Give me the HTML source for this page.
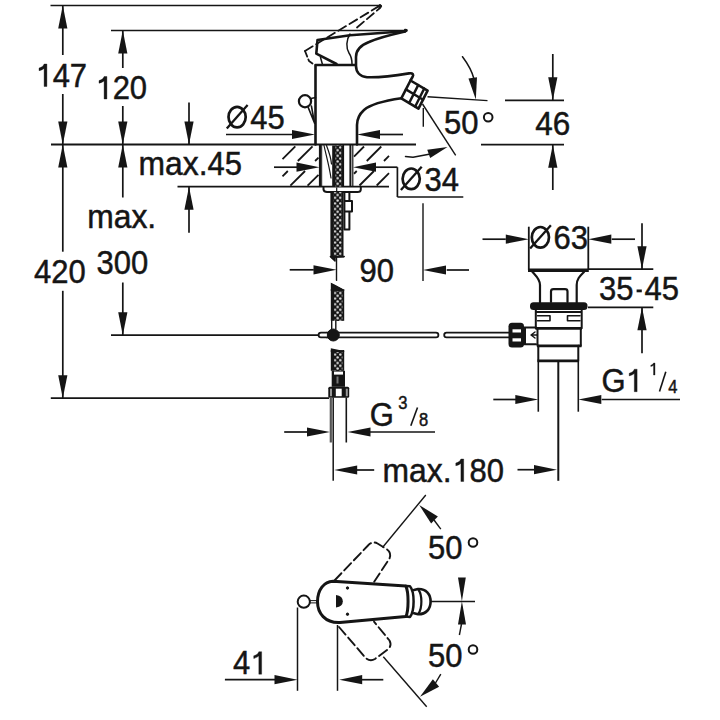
<!DOCTYPE html>
<html><head><meta charset="utf-8"><style>
html,body{margin:0;padding:0;background:#fff;}
svg{display:block;}
text{font-family:"Liberation Sans",sans-serif;fill:#151515;}
</style></head><body>
<svg width="720" height="720" viewBox="0 0 720 720">
<rect width="720" height="720" fill="#fff"/>
<line x1="50.50" y1="5.50" x2="380.00" y2="5.50" stroke="#151515" stroke-width="1.7" />
<line x1="111.00" y1="30.50" x2="405.00" y2="30.50" stroke="#151515" stroke-width="1.7" />
<line x1="51.00" y1="144.50" x2="416.00" y2="144.50" stroke="#151515" stroke-width="1.8" />
<line x1="177.50" y1="186.70" x2="389.00" y2="186.70" stroke="#151515" stroke-width="1.8" />
<line x1="111.00" y1="335.20" x2="318.00" y2="335.20" stroke="#151515" stroke-width="1.7" />
<line x1="50.80" y1="398.20" x2="329.00" y2="398.20" stroke="#151515" stroke-width="1.7" />
<line x1="62.80" y1="5.50" x2="62.80" y2="55.00" stroke="#151515" stroke-width="1.7" />
<line x1="62.80" y1="94.00" x2="62.80" y2="144.50" stroke="#151515" stroke-width="1.7" />
<polygon points="62.80,5.50 67.40,28.50 58.20,28.50" fill="#151515" stroke="none" stroke-width="0"/>
<polygon points="62.80,144.50 58.20,121.50 67.40,121.50" fill="#151515" stroke="none" stroke-width="0"/>
<line x1="62.80" y1="144.50" x2="62.80" y2="251.70" stroke="#151515" stroke-width="1.7" />
<line x1="62.80" y1="290.80" x2="62.80" y2="398.20" stroke="#151515" stroke-width="1.7" />
<polygon points="62.80,144.50 67.40,167.50 58.20,167.50" fill="#151515" stroke="none" stroke-width="0"/>
<polygon points="62.80,398.20 58.20,375.20 67.40,375.20" fill="#151515" stroke="none" stroke-width="0"/>
<line x1="122.80" y1="30.50" x2="122.80" y2="68.00" stroke="#151515" stroke-width="1.7" />
<line x1="122.80" y1="106.00" x2="122.80" y2="145.00" stroke="#151515" stroke-width="1.7" />
<polygon points="122.80,30.50 127.40,53.50 118.20,53.50" fill="#151515" stroke="none" stroke-width="0"/>
<polygon points="122.80,144.50 118.20,121.50 127.40,121.50" fill="#151515" stroke="none" stroke-width="0"/>
<line x1="122.80" y1="145.00" x2="122.80" y2="197.50" stroke="#151515" stroke-width="1.7" />
<line x1="122.80" y1="282.50" x2="122.80" y2="335.00" stroke="#151515" stroke-width="1.7" />
<polygon points="122.80,144.50 127.40,167.50 118.20,167.50" fill="#151515" stroke="none" stroke-width="0"/>
<polygon points="122.80,335.20 118.20,312.20 127.40,312.20" fill="#151515" stroke="none" stroke-width="0"/>
<line x1="189.00" y1="102.50" x2="189.00" y2="145.00" stroke="#151515" stroke-width="1.7" />
<polygon points="189.00,144.50 184.40,121.50 193.60,121.50" fill="#151515" stroke="none" stroke-width="0"/>
<line x1="189.00" y1="186.70" x2="189.00" y2="232.80" stroke="#151515" stroke-width="1.7" />
<polygon points="189.00,186.70 193.60,209.70 184.40,209.70" fill="#151515" stroke="none" stroke-width="0"/>
<path d="M46.90,86.50 V64.00 H44.10 C43.40,66.00 41.90,67.20 39.00,68.10 V70.70 C40.90,70.30 42.70,69.50 44.10,68.40 V86.50 Z" fill="#151515" stroke="#151515" stroke-width="0.35"/>
<text transform="translate(52.63,86.50) scale(1.0,1.07)" font-size="31" stroke="#151515" stroke-width="0.45">47</text>
<path d="M106.90,99.00 V76.50 H104.10 C103.40,78.50 101.90,79.70 99.00,80.60 V83.20 C100.90,82.80 102.70,82.00 104.10,80.90 V99.00 Z" fill="#151515" stroke="#151515" stroke-width="0.35"/>
<text transform="translate(112.63,99.00) scale(1.0,1.07)" font-size="31" stroke="#151515" stroke-width="0.45">20</text>
<text transform="translate(138.54,175.00) scale(1.028,1.07)" font-size="31" stroke="#151515" stroke-width="0.45">max.</text>
<text transform="translate(207.50,175.00) scale(1.0,1.07)" font-size="31" stroke="#151515" stroke-width="0.45">45</text>
<text transform="translate(87.14,228.00) scale(1.028,1.07)" font-size="31" stroke="#151515" stroke-width="0.45">max.</text>
<text transform="translate(34.00,282.50) scale(1.0,1.07)" font-size="31" stroke="#151515" stroke-width="0.45">420</text>
<text transform="translate(96.50,274.20) scale(1.0,1.07)" font-size="31" stroke="#151515" stroke-width="0.45">300</text>
<ellipse cx="237.10" cy="117.10" rx="8.60" ry="10.30" fill="none" stroke="#151515" stroke-width="2.70"/>
<line x1="226.80" y1="128.40" x2="247.60" y2="105.00" stroke="#151515" stroke-width="2.30"/>
<text transform="translate(250.31,129.00) scale(1.0,1.07)" font-size="31" stroke="#151515" stroke-width="0.45">45</text>
<line x1="226.00" y1="134.50" x2="292.00" y2="134.50" stroke="#151515" stroke-width="1.7" />
<polygon points="315.00,134.50 292.00,139.10 292.00,129.90" fill="#151515" stroke="none" stroke-width="0"/>
<polygon points="357.00,134.50 380.00,129.90 380.00,139.10" fill="#151515" stroke="none" stroke-width="0"/>
<line x1="378.00" y1="134.50" x2="403.00" y2="134.50" stroke="#151515" stroke-width="1.7" />
<line x1="282.50" y1="159.10" x2="295.30" y2="146.30" stroke="#151515" stroke-width="1.8" />
<line x1="282.50" y1="176.33" x2="287.83" y2="171.00" stroke="#151515" stroke-width="1.8" />
<line x1="297.83" y1="161.00" x2="312.53" y2="146.30" stroke="#151515" stroke-width="1.8" />
<line x1="290.36" y1="185.70" x2="305.06" y2="171.00" stroke="#151515" stroke-width="1.8" />
<line x1="315.06" y1="161.00" x2="318.50" y2="157.56" stroke="#151515" stroke-width="1.8" />
<line x1="307.59" y1="185.70" x2="318.50" y2="174.79" stroke="#151515" stroke-width="1.8" />
<line x1="354.00" y1="156.52" x2="364.02" y2="146.50" stroke="#151515" stroke-width="1.8" />
<line x1="354.00" y1="173.75" x2="356.75" y2="171.00" stroke="#151515" stroke-width="1.8" />
<line x1="366.75" y1="161.00" x2="381.25" y2="146.50" stroke="#151515" stroke-width="1.8" />
<line x1="359.48" y1="185.50" x2="373.98" y2="171.00" stroke="#151515" stroke-width="1.8" />
<line x1="383.98" y1="161.00" x2="389.00" y2="155.98" stroke="#151515" stroke-width="1.8" />
<line x1="376.71" y1="185.50" x2="389.00" y2="173.21" stroke="#151515" stroke-width="1.8" />
<line x1="320.00" y1="144.50" x2="320.00" y2="186.70" stroke="#151515" stroke-width="2.2" />
<line x1="350.40" y1="144.50" x2="350.40" y2="186.70" stroke="#151515" stroke-width="2" />
<line x1="343.30" y1="144.50" x2="343.30" y2="186.70" stroke="#151515" stroke-width="1.6" />
<line x1="352.80" y1="144.50" x2="352.80" y2="186.70" stroke="#151515" stroke-width="1.2" />
<line x1="274.00" y1="167.20" x2="297.00" y2="167.20" stroke="#151515" stroke-width="1.7" />
<polygon points="319.50,167.20 296.50,171.80 296.50,162.60" fill="#151515" stroke="none" stroke-width="0"/>
<polygon points="353.00,167.20 376.00,162.60 376.00,171.80" fill="#151515" stroke="none" stroke-width="0"/>
<line x1="375.00" y1="167.20" x2="397.40" y2="167.20" stroke="#151515" stroke-width="1.7" />
<line x1="397.40" y1="167.20" x2="397.40" y2="197.00" stroke="#151515" stroke-width="1.7" />
<line x1="397.40" y1="197.00" x2="463.30" y2="197.00" stroke="#151515" stroke-width="1.7" />
<ellipse cx="411.20" cy="178.80" rx="8.60" ry="10.30" fill="none" stroke="#151515" stroke-width="2.70"/>
<line x1="400.90" y1="190.10" x2="421.70" y2="166.70" stroke="#151515" stroke-width="2.30"/>
<text transform="translate(424.41,190.70) scale(1.0,1.07)" font-size="31" stroke="#151515" stroke-width="0.45">34</text>
<path d="M315.5,144.5 V65 H355.5" fill="none" stroke="#151515" stroke-width="2.6" stroke-linejoin="round" stroke-linecap="round" />
<path d="M405,31.5 C394,34 378,38 369,42 C360,45.5 356,50 356,57 L356,66 C356,72 360,76.5 367,77.2 C380,77.8 396,75.5 409,73.4 C413,72.8 414,74.5 412.5,77 L410.5,80.5" fill="none" stroke="#151515" stroke-width="2.6" stroke-linejoin="round" stroke-linecap="round" />
<path d="M401.3,98.3 C386,100.5 371,104 364,110 C359,114.5 357,119 357,125 L357,144.5" fill="none" stroke="#151515" stroke-width="2.6" stroke-linejoin="round" stroke-linecap="round" />
<path d="M410.5,80.5 L427.6,90.7 L418.5,108.7 L401.3,98.3 Z" fill="none" stroke="#151515" stroke-width="2.6" stroke-linejoin="round" stroke-linecap="round" />
<path d="M418.2,85.1 L409.2,102.9 M424.2,88.6 L415.2,106.5 M405.9,89.4 L423.1,99.7" fill="none" stroke="#151515" stroke-width="2.4" stroke-linejoin="round" stroke-linecap="round" />
<path d="M405,31.2 L350,35.2 L317.5,40 L316.3,53.7 L336.5,64" fill="none" stroke="#151515" stroke-width="2.6" stroke-linejoin="round" stroke-linecap="round" />
<path d="M405,31.5 C407.5,31 407.5,29.7 405,29.8" fill="none" stroke="#151515" stroke-width="2" stroke-linejoin="round" stroke-linecap="round" />
<path d="M350,34 C346,40 346,48 349,53 C351,56 352,60 352,64" fill="none" stroke="#151515" stroke-width="1.5" stroke-linejoin="round" stroke-linecap="round" />
<path d="M320.5,57.5 L322.5,64.5" fill="none" stroke="#151515" stroke-width="1.5" stroke-linejoin="round" stroke-linecap="round" />
<path d="M305,51 L380,5.5" fill="none" stroke="#151515" stroke-width="1.8" stroke-linejoin="round" stroke-linecap="round" stroke-dasharray="9 4"/>
<path d="M357,27.5 L380,8" fill="none" stroke="#151515" stroke-width="1.8" stroke-linejoin="round" stroke-linecap="round" stroke-dasharray="9 4"/>
<path d="M305,51 L309,61 L314,64.5" fill="none" stroke="#151515" stroke-width="1.8" stroke-linejoin="round" stroke-linecap="round" stroke-dasharray="6 3"/>
<circle cx="380" cy="6.2" r="1.6" fill="#151515" stroke="#151515" stroke-width="1"/>
<circle cx="305" cy="101.25" r="6.1" fill="none" stroke="#151515" stroke-width="2.2"/>
<path d="M308.3,107.6 L314.6,123.3 M311.4,106 L314.6,123.3 M311,98.5 L315.5,97.5" fill="none" stroke="#151515" stroke-width="1.6" stroke-linejoin="round" stroke-linecap="round" />
<line x1="427.50" y1="96.70" x2="487.50" y2="100.60" stroke="#151515" stroke-width="1.4" />
<line x1="422.50" y1="104.00" x2="455.70" y2="155.30" stroke="#151515" stroke-width="1.4" />
<line x1="423.30" y1="108.00" x2="423.30" y2="126.70" stroke="#151515" stroke-width="1.4" />
<line x1="423.00" y1="203.20" x2="423.00" y2="281.00" stroke="#151515" stroke-width="1.4" />
<polygon points="423.00,270.00 446.00,265.40 446.00,274.60" fill="#151515" stroke="none" stroke-width="0"/>
<line x1="446.70" y1="270.00" x2="469.00" y2="270.00" stroke="#151515" stroke-width="1.7" />
<path d="M462.5,56.7 C468,64 472,71 474,79" fill="none" stroke="#151515" stroke-width="1.5" stroke-linejoin="round" stroke-linecap="round" />
<polygon points="475.80,99.60 468.48,78.41 477.00,77.22" fill="#151515" stroke="none" stroke-width="0"/>
<path d="M405.5,156.5 L413,157.3 L429,154.2" fill="none" stroke="#151515" stroke-width="1.5" stroke-linejoin="round" stroke-linecap="round" />
<polygon points="447.50,147.00 430.18,157.88 427.24,149.80" fill="#151515" stroke="none" stroke-width="0"/>
<text transform="translate(444.00,134.00) scale(1.0,1.07)" font-size="31" stroke="#151515" stroke-width="0.45">50</text>
<circle cx="488.2" cy="117.3" r="4.3" fill="none" stroke="#151515" stroke-width="2.0"/>
<line x1="505.00" y1="100.30" x2="564.00" y2="100.30" stroke="#151515" stroke-width="1.7" />
<line x1="481.00" y1="144.70" x2="564.00" y2="144.70" stroke="#151515" stroke-width="1.8" />
<line x1="552.80" y1="54.00" x2="552.80" y2="100.30" stroke="#151515" stroke-width="1.7" />
<polygon points="552.80,100.30 548.20,77.30 557.40,77.30" fill="#151515" stroke="none" stroke-width="0"/>
<line x1="552.80" y1="144.70" x2="552.80" y2="190.00" stroke="#151515" stroke-width="1.7" />
<polygon points="552.80,144.70 557.40,167.70 548.20,167.70" fill="#151515" stroke="none" stroke-width="0"/>
<text transform="translate(535.20,134.50) scale(1.0,1.07)" font-size="31.5" stroke="#151515" stroke-width="0.45">46</text>
<ellipse cx="540.40" cy="237.30" rx="8.60" ry="10.30" fill="none" stroke="#151515" stroke-width="2.70"/>
<line x1="530.10" y1="248.60" x2="550.90" y2="225.20" stroke="#151515" stroke-width="2.30"/>
<text transform="translate(553.61,249.20) scale(1.0,1.07)" font-size="31" stroke="#151515" stroke-width="0.45">63</text>
<line x1="528.80" y1="226.70" x2="528.80" y2="270.00" stroke="#151515" stroke-width="1.8" />
<line x1="588.30" y1="226.70" x2="588.30" y2="270.00" stroke="#151515" stroke-width="1.8" />
<line x1="482.50" y1="239.20" x2="505.80" y2="239.20" stroke="#151515" stroke-width="1.7" />
<polygon points="528.80,239.20 505.80,243.80 505.80,234.60" fill="#151515" stroke="none" stroke-width="0"/>
<polygon points="588.30,239.20 611.30,234.60 611.30,243.80" fill="#151515" stroke="none" stroke-width="0"/>
<line x1="611.70" y1="239.20" x2="635.00" y2="239.20" stroke="#151515" stroke-width="1.7" />
<line x1="528.00" y1="270.30" x2="588.80" y2="270.30" stroke="#151515" stroke-width="3.6" />
<line x1="588.00" y1="269.20" x2="653.30" y2="269.20" stroke="#151515" stroke-width="1.7" />
<line x1="588.00" y1="307.30" x2="653.30" y2="307.30" stroke="#151515" stroke-width="1.7" />
<line x1="642.00" y1="223.30" x2="642.00" y2="269.20" stroke="#151515" stroke-width="1.7" />
<polygon points="642.00,269.20 637.40,246.20 646.60,246.20" fill="#151515" stroke="none" stroke-width="0"/>
<line x1="642.00" y1="307.30" x2="642.00" y2="353.30" stroke="#151515" stroke-width="1.7" />
<polygon points="642.00,307.30 646.60,330.30 637.40,330.30" fill="#151515" stroke="none" stroke-width="0"/>
<text transform="translate(599.00,300.00) scale(1.0,1.07)" font-size="31" stroke="#151515" stroke-width="0.45">35</text>
<text transform="translate(644.60,300.00) scale(1.0,1.07)" font-size="31" stroke="#151515" stroke-width="0.45">45</text>
<rect x="636.6" y="289.5" width="5.2" height="2.8" fill="#151515"/>
<path d="M532.5,272 C536,276 540,279 540,285 L540,302.5" fill="none" stroke="#151515" stroke-width="2.2" stroke-linejoin="round" stroke-linecap="round" />
<path d="M584,272 C580,276 576.7,279 576.7,285 L576.7,302.5" fill="none" stroke="#151515" stroke-width="2.2" stroke-linejoin="round" stroke-linecap="round" />
<path d="M551,302 L551,291.5 Q551,289.2 553.5,289.2 L565,289.2 Q567.5,289.2 567.5,291.5 L567.5,302" fill="none" stroke="#151515" stroke-width="2.2" stroke-linejoin="round" stroke-linecap="round" />
<rect x="530" y="302.3" width="57.5" height="7.8" rx="3.5" fill="#151515"/>
<path d="M535.8,310 L535.8,328.3 M581.7,310 L581.7,328.3 M535.8,312 L581.7,312" fill="none" stroke="#151515" stroke-width="2" stroke-linejoin="round" stroke-linecap="round" />
<path d="M537.5,315.8 H550 V320.8 H537.5 M580,315.8 H567.5 V320.8 H580" fill="none" stroke="#151515" stroke-width="1.6" stroke-linejoin="round" stroke-linecap="round" />
<line x1="535.50" y1="328.30" x2="582.00" y2="328.30" stroke="#151515" stroke-width="2.8" />
<path d="M537.5,328.3 L537.5,345.8 M580.8,328.3 L580.8,345.8" fill="none" stroke="#151515" stroke-width="2" stroke-linejoin="round" stroke-linecap="round" />
<line x1="537.00" y1="345.80" x2="581.50" y2="345.80" stroke="#151515" stroke-width="2.8" />
<path d="M538.3,345.8 L538.3,360.8 M578.3,345.8 L578.3,360.8" fill="none" stroke="#151515" stroke-width="2" stroke-linejoin="round" stroke-linecap="round" />
<line x1="537.50" y1="360.80" x2="579.00" y2="360.80" stroke="#151515" stroke-width="2.8" />
<line x1="538.30" y1="361.00" x2="538.30" y2="411.70" stroke="#151515" stroke-width="1.6" />
<line x1="578.30" y1="361.00" x2="578.30" y2="411.70" stroke="#151515" stroke-width="1.6" />
<line x1="558.30" y1="361.00" x2="558.30" y2="480.80" stroke="#151515" stroke-width="2" />
<rect x="508.5" y="322.8" width="15.5" height="24.7" rx="3.5" fill="#151515"/>
<rect x="512.5" y="329.3" width="8.5" height="3.2" fill="#fff"/>
<rect x="512.5" y="338.3" width="8.5" height="3.2" fill="#fff"/>
<path d="M523.3,327.5 H536 M523.3,344.2 H536 M525,327.5 V344.2" fill="none" stroke="#151515" stroke-width="2" stroke-linejoin="round" stroke-linecap="round" />
<path d="M535,332 L531,335 L535,338 M531,335 H537" fill="none" stroke="#151515" stroke-width="1.4" stroke-linejoin="round" stroke-linecap="round" />
<path d="M327,332.6 H436 A2.4,2.4 0 0 1 436,337.4 H327" fill="#fff" stroke="#151515" stroke-width="1.8" stroke-linejoin="round" stroke-linecap="round" />
<path d="M446.6,332.6 H509.5 M446.6,337.4 H509.5 M446.6,332.6 A2.4,2.4 0 0 0 446.6,337.4" fill="none" stroke="#151515" stroke-width="1.8" stroke-linejoin="round" stroke-linecap="round" />
<path d="M327,332.6 H321 A2.4,2.4 0 0 0 321,337.4 H327" fill="#fff" stroke="#151515" stroke-width="1.8" stroke-linejoin="round" stroke-linecap="round" />
<circle cx="333.3" cy="335" r="6" fill="#151515" stroke="#151515" stroke-width="1"/>
<line x1="493.30" y1="399.50" x2="516.70" y2="399.50" stroke="#151515" stroke-width="1.7" />
<polygon points="538.30,399.50 515.30,404.10 515.30,394.90" fill="#151515" stroke="none" stroke-width="0"/>
<polygon points="578.30,399.50 601.30,394.90 601.30,404.10" fill="#151515" stroke="none" stroke-width="0"/>
<line x1="601.70" y1="399.50" x2="680.00" y2="399.50" stroke="#151515" stroke-width="1.7" />
<text transform="translate(601.50,391.70) scale(1.0,1.07)" font-size="31" stroke="#151515" stroke-width="0.45">G</text>
<path d="M637.11,391.70 V369.20 H634.31 C633.61,371.20 632.11,372.40 629.21,373.30 V375.90 C631.11,375.50 632.91,374.70 634.31,373.60 V391.70 Z" fill="#151515" stroke="#151515" stroke-width="0.35"/>
<path d="M655.00,375.00 V363.02 H653.51 C653.14,364.09 652.34,364.73 650.80,365.21 V366.59 C651.81,366.38 652.77,365.95 653.51,365.37 V375.00 Z" fill="#151515" stroke="#151515" stroke-width="0.35"/>
<line x1="659.50" y1="391.50" x2="665.80" y2="371.70" stroke="#151515" stroke-width="1.6" />
<text transform="translate(668.30,392.50) scale(1.0,1.07)" font-size="16.5" stroke="#151515" stroke-width="0.45">4</text>
<defs><pattern id="br" x="333.7" y="0.4" width="5.3" height="5.6" patternUnits="userSpaceOnUse">
<rect width="5.3" height="5.6" fill="#151515"/><circle cx="1.3" cy="1.4" r="1.2" fill="#e8e8e8"/><circle cx="3.95" cy="4.2" r="1.2" fill="#e8e8e8"/></pattern></defs>
<rect x="332.2" y="145.5" width="11.100000000000023" height="41.0" fill="#151515"/>
<rect x="335.5" y="145.5" width="6.000000000000023" height="41.0" fill="url(#br)"/>
<path d="M324,145.5 C326,155 329,165 331,178" fill="none" stroke="#151515" stroke-width="1.2" stroke-linejoin="round" stroke-linecap="round" />
<path d="M326.5,145.5 C329,152 331,158 331.5,164" fill="none" stroke="#151515" stroke-width="1.2" stroke-linejoin="round" stroke-linecap="round" />
<path d="M321.7,145.5 L321.7,186" fill="none" stroke="#151515" stroke-width="1.0" stroke-linejoin="round" stroke-linecap="round" />
<path d="M323.5,187.2 L323.5,189.5 Q324,192 327,192 L357.5,192 Q360.8,192 360.8,189.5 L360.8,187.2" fill="none" stroke="#151515" stroke-width="2" stroke-linejoin="round" stroke-linecap="round" />
<line x1="336.70" y1="187.50" x2="336.70" y2="192.00" stroke="#151515" stroke-width="1.2" />
<rect x="330.4" y="192" width="13.100000000000023" height="64.5" fill="#151515"/>
<rect x="333.7" y="192" width="8.000000000000023" height="64.5" fill="url(#br)"/>
<path d="M330.4,256.5 L335,261 L335,257 L344.2,256.5" fill="#151515" stroke="#151515" stroke-width="1.5" stroke-linejoin="round" stroke-linecap="round" />
<polygon points="330.4,256 344.2,256 344.2,257.5 335,257.8 335,261 330.4,257.5" fill="#151515"/>
<path d="M344.4,192 L344.4,229.5 L349.4,229.5 L349.4,211.6 M349.4,192 L349.4,201 M344.4,201 H352 V211.6 H344.4" fill="none" stroke="#151515" stroke-width="2" stroke-linejoin="round" stroke-linecap="round" />
<line x1="336.50" y1="257.00" x2="336.50" y2="281.00" stroke="#151515" stroke-width="1.4" />
<line x1="289.70" y1="269.80" x2="313.80" y2="269.80" stroke="#151515" stroke-width="1.7" />
<polygon points="336.50,269.80 313.50,274.40 313.50,265.20" fill="#151515" stroke="none" stroke-width="0"/>
<text transform="translate(359.50,281.70) scale(1.0,1.07)" font-size="31" stroke="#151515" stroke-width="0.45">90</text>
<rect x="330.8" y="289" width="13.399999999999977" height="31.80000000000001" fill="#151515"/>
<rect x="334.1" y="289" width="8.299999999999978" height="31.80000000000001" fill="url(#br)"/>
<polygon points="330.8,282.5 335,284 344.2,289.5 344.2,291 330.8,291" fill="#151515"/>
<polygon points="330.8,282.5 344.2,289.5 344.2,285 330.8,278" fill="#fff"/>
<path d="M331.7,320.8 L331.7,329 M335.8,320.8 L335.8,329" fill="none" stroke="#151515" stroke-width="1.4" stroke-linejoin="round" stroke-linecap="round" />
<rect x="330.8" y="350" width="13.399999999999977" height="20.80000000000001" fill="#151515"/>
<rect x="334.1" y="350" width="8.299999999999978" height="20.80000000000001" fill="url(#br)"/>
<polygon points="330.8,348.3 344.2,351 344.2,352 330.8,352" fill="#151515"/>
<rect x="331.7" y="370.8" width="13.3" height="16" fill="#151515"/>
<rect x="334" y="371.6" width="9" height="3" fill="#fff"/>
<rect x="336.5" y="376.5" width="2" height="7" fill="#777"/>
<rect x="328.3" y="386.7" width="20.9" height="11" rx="1.5" fill="#151515"/>
<rect x="335.8" y="388.7" width="5.9" height="7.5" fill="#fff"/>
<rect x="330" y="388.7" width="2" height="7.5" fill="#999"/>
<rect x="345.8" y="388.7" width="2" height="7.5" fill="#999"/>
<line x1="330.80" y1="397.50" x2="330.80" y2="442.50" stroke="#555" stroke-width="2.2" />
<line x1="346.30" y1="397.50" x2="346.30" y2="442.50" stroke="#151515" stroke-width="1.6" />
<line x1="333.20" y1="397.50" x2="333.20" y2="480.80" stroke="#151515" stroke-width="1.5" />
<line x1="284.20" y1="432.00" x2="307.50" y2="432.00" stroke="#151515" stroke-width="1.7" />
<polygon points="330.00,432.00 307.00,436.60 307.00,427.40" fill="#151515" stroke="none" stroke-width="0"/>
<polygon points="347.50,432.00 370.50,427.40 370.50,436.60" fill="#151515" stroke="none" stroke-width="0"/>
<line x1="370.00" y1="432.00" x2="435.00" y2="432.00" stroke="#151515" stroke-width="1.7" />
<text transform="translate(369.80,425.80) scale(1.0,1.07)" font-size="31" stroke="#151515" stroke-width="0.45">G</text>
<text transform="translate(398.20,409.20) scale(1.0,1.07)" font-size="16.5" stroke="#151515" stroke-width="0.45">3</text>
<line x1="410.80" y1="425.80" x2="417.50" y2="407.50" stroke="#151515" stroke-width="1.6" />
<text transform="translate(419.00,425.80) scale(1.0,1.07)" font-size="16.5" stroke="#151515" stroke-width="0.45">8</text>
<polygon points="334.20,470.00 357.20,465.40 357.20,474.60" fill="#151515" stroke="none" stroke-width="0"/>
<line x1="356.70" y1="470.00" x2="374.20" y2="470.00" stroke="#151515" stroke-width="1.7" />
<text transform="translate(382.44,481.50) scale(1.028,1.07)" font-size="31" stroke="#151515" stroke-width="0.45">max.</text>
<path d="M463.70,481.50 V459.00 H460.90 C460.20,461.00 458.70,462.20 455.80,463.10 V465.70 C457.70,465.30 459.50,464.50 460.90,463.40 V481.50 Z" fill="#151515" stroke="#151515" stroke-width="0.35"/>
<text transform="translate(469.43,481.50) scale(1.0,1.07)" font-size="31" stroke="#151515" stroke-width="0.45">80</text>
<line x1="517.50" y1="469.70" x2="535.00" y2="469.70" stroke="#151515" stroke-width="1.7" />
<polygon points="557.00,469.70 534.00,474.30 534.00,465.10" fill="#151515" stroke="none" stroke-width="0"/>
<circle cx="303.8" cy="601.7" r="6.1" fill="none" stroke="#151515" stroke-width="2.0"/>
<path d="M310.3,600.6 L317.8,600.6 M310.3,602.9 L317.8,602.9" fill="none" stroke="#151515" stroke-width="1.0" stroke-linejoin="round" stroke-linecap="round" />
<line x1="297.50" y1="607.50" x2="297.50" y2="690.80" stroke="#151515" stroke-width="1.5" />
<line x1="337.50" y1="625.00" x2="337.50" y2="690.80" stroke="#151515" stroke-width="1.5" />
<line x1="224.90" y1="679.70" x2="275.00" y2="679.70" stroke="#151515" stroke-width="1.7" />
<polygon points="297.50,679.70 274.50,684.30 274.50,675.10" fill="#151515" stroke="none" stroke-width="0"/>
<polygon points="339.20,679.70 362.20,675.10 362.20,684.30" fill="#151515" stroke="none" stroke-width="0"/>
<line x1="361.70" y1="679.70" x2="383.30" y2="679.70" stroke="#151515" stroke-width="1.7" />
<text transform="translate(232.90,674.20) scale(1.0,1.07)" font-size="31" stroke="#151515" stroke-width="0.45">4</text>
<path d="M261.63,674.20 V651.70 H258.83 C258.13,653.70 256.63,654.90 253.73,655.80 V658.40 C255.63,658.00 257.43,657.20 258.83,656.10 V674.20 Z" fill="#151515" stroke="#151515" stroke-width="0.35"/>
<path d="M334.5,580.5 L368,545.5 Q372.5,540.8 377.5,543.5 L386.5,549 Q391.8,552.5 389.5,558.5 L373.7,582.5" fill="none" stroke="#151515" stroke-width="1.9" stroke-linejoin="round" stroke-linecap="round" stroke-dasharray="10 4"/>
<path d="M339,627 L364,656 Q369,662.5 375,659 L387,650 Q392.5,646 389.5,640.5 L374,621.7" fill="none" stroke="#151515" stroke-width="1.9" stroke-linejoin="round" stroke-linecap="round" stroke-dasharray="10 4"/>
<line x1="382.50" y1="547.50" x2="425.80" y2="495.00" stroke="#151515" stroke-width="1.4" />
<line x1="383.30" y1="656.70" x2="426.70" y2="706.70" stroke="#151515" stroke-width="1.4" />
<polygon points="419.20,505.00 437.86,516.57 431.14,523.43" fill="#151515" stroke="none" stroke-width="0"/>
<line x1="434.00" y1="520.00" x2="440.80" y2="529.20" stroke="#151515" stroke-width="1.4" />
<polygon points="420.00,696.70 432.88,679.35 439.12,686.65" fill="#151515" stroke="none" stroke-width="0"/>
<line x1="435.50" y1="683.00" x2="440.80" y2="674.20" stroke="#151515" stroke-width="1.4" />
<path d="M333,581.2 L405.8,586 C408.8,592 408.8,611 405.8,616.6 L340,622.5 C325,623.2 317.5,613 317.5,601.8 C317.5,590 324,581.4 333,581.2 Z" fill="none" stroke="#151515" stroke-width="3" stroke-linejoin="round" stroke-linecap="round" />
<path d="M405.8,586 L410,586.3 C414.8,592 414.8,611 410,617 L405.8,616.6" fill="none" stroke="#151515" stroke-width="2.5" stroke-linejoin="round" stroke-linecap="round" />
<path d="M414,590 L418,589 C426,588.6 430.6,594 430.6,601.5 C430.6,609 426,614.4 418,614.2 L414,613.3" fill="none" stroke="#151515" stroke-width="2.6" stroke-linejoin="round" stroke-linecap="round" />
<path d="M418.6,590 C422.3,595 422.3,608 418.6,613.4" fill="none" stroke="#151515" stroke-width="2.2" stroke-linejoin="round" stroke-linecap="round" />
<path d="M336,595 Q342.8,596 342.8,601.3 Q342.8,606.8 336,607.6 Z" fill="#151515"/>
<circle cx="347.5" cy="588" r="1.2" fill="#151515" stroke="#151515" stroke-width="1"/>
<circle cx="347.5" cy="614.2" r="1.2" fill="#151515" stroke="#151515" stroke-width="1"/>
<line x1="430.00" y1="601.50" x2="475.00" y2="601.50" stroke="#151515" stroke-width="1.4" />
<polygon points="461.90,601.20 458.00,577.50 465.80,577.50" fill="#151515" stroke="none" stroke-width="0"/>
<polygon points="461.90,601.20 458.00,624.40 466.00,624.40" fill="#151515" stroke="none" stroke-width="0"/>
<line x1="461.50" y1="624.00" x2="459.40" y2="635.00" stroke="#151515" stroke-width="1.4" />
<text transform="translate(428.00,559.30) scale(1.0,1.07)" font-size="31" stroke="#151515" stroke-width="0.45">50</text>
<circle cx="473" cy="542.5" r="4.3" fill="none" stroke="#151515" stroke-width="2.0"/>
<text transform="translate(428.00,666.50) scale(1.0,1.07)" font-size="31" stroke="#151515" stroke-width="0.45">50</text>
<circle cx="473" cy="649.5" r="4.3" fill="none" stroke="#151515" stroke-width="2.0"/>
</svg></body></html>
